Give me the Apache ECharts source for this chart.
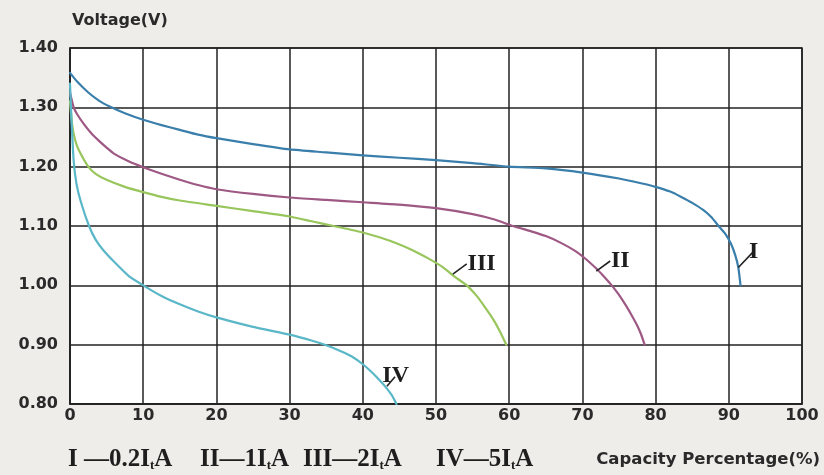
<!DOCTYPE html>
<html><head><meta charset="utf-8">
<script src="https://cdn.jsdelivr.net/npm/echarts@6/dist/echarts.min.js"></script>
<style>html,body{margin:0;padding:0;background:#efedea}#c{width:824px;height:475px}</style>
</head><body><div id="c"></div>
<script>
// ---- data ----
const xTicks = [0,10,20,30,40,50,60,70,80,90,100];
const yTicks = [0.80,0.90,1.00,1.10,1.20,1.30,1.40];
const seriesNames = ['I','II','III','IV'];
const curveI = [[0,1.358],[1,1.343],[2.5,1.325],[4,1.311],[5.5,1.301],[7.5,1.29],[10,1.279],[12.5,1.27],[15,1.262],[17.5,1.254],[20,1.248],[25,1.238],[30,1.229],[35,1.224],[40,1.219],[45,1.215],[50,1.211],[55,1.206],[60,1.20],[65,1.197],[70,1.19],[75,1.18],[78,1.172],[80,1.166],[82,1.158],[83.5,1.149],[85,1.139],[86.5,1.127],[87.6,1.115],[88.6,1.10],[89.5,1.087],[90.3,1.07],[90.9,1.05],[91.3,1.03],[91.6,1.00]];
const curveII = [[0,1.325],[0.5,1.30],[1,1.288],[2,1.27],[3,1.255],[4,1.243],[5,1.232],[6,1.222],[8,1.209],[10,1.199],[12.5,1.188],[15,1.178],[17.5,1.169],[20,1.162],[25,1.154],[30,1.148],[35,1.144],[40,1.14],[45,1.136],[50,1.13],[55,1.12],[58,1.111],[60.5,1.10],[63,1.091],[65,1.083],[67,1.072],[69,1.058],[70.5,1.044],[72,1.027],[73,1.014],[74,1.00],[75,0.984],[76,0.965],[76.8,0.948],[77.5,0.932],[78,0.918],[78.5,0.90]];
const curveIII = [[0,1.31],[0.3,1.27],[0.7,1.245],[1.2,1.228],[2.5,1.20],[3.5,1.188],[5,1.178],[7.5,1.166],[10,1.157],[12.5,1.149],[15,1.143],[20,1.134],[25,1.125],[30,1.116],[33,1.108],[36,1.10],[40,1.089],[43.7,1.075],[47,1.058],[49,1.045],[51,1.03],[52.5,1.015],[54.2,1.00],[55.5,0.983],[56.7,0.963],[57.8,0.943],[58.7,0.923],[59.6,0.90]];
const curveIV = [[0,1.34],[0.2,1.28],[0.5,1.21],[0.9,1.17],[1.5,1.14],[2.6,1.10],[3.5,1.077],[4.5,1.06],[6,1.04],[8,1.016],[10,1.00],[12.5,0.982],[15,0.968],[17.5,0.956],[20,0.946],[25,0.93],[30,0.917],[33,0.907],[35,0.899],[37,0.889],[38.5,0.88],[40,0.867],[41.2,0.854],[42.3,0.84],[43.3,0.826],[44,0.814],[44.6,0.80]];
// label leader lines [start, end] in data coords
const leadI = [[91.3,1.03],[93.3,1.056]];
const leadII = [[71.9,1.024],[73.8,1.041]];
const leadIII = [[52.3,1.019],[54.2,1.036]];
const leadIV = [[43.3,0.83],[44.4,0.846]];
const legendItems = [['I ','0.2'],['II','1'],['III','2'],['IV','5']];
const xTitle = 'Capacity Percentage(%)';
const yTitle = 'Voltage(V)';

const colors = ['#3a7fab','#9e5884','#98c65c','#5ab7c7'];
const curves = [curveI, curveII, curveIII, curveIV];
const leads = [leadI, leadII, leadIII, leadIV];

const chart = echarts.init(document.getElementById('c'));
const series = curves.map((d,i)=>({
  name: seriesNames[i], type:'line', data:d, showSymbol:false, smooth:0.2,
  lineStyle:{color:colors[i], width:2.2, cap:'round', join:'round'}, z:3,
  markLine:{symbol:['none','none'], silent:true, animation:false,
    lineStyle:{color:'#222', width:1.6, type:'solid'},
    label:{show:true, position:'end', formatter:seriesNames[i], color:'#1e1e1e',
      fontFamily:'Liberation Serif', fontWeight:'bold', fontSize:24, distance:1},
    data:[[{coord:leads[i][0]},{coord:leads[i][1]}]]}
}));

const legendX = [68,200,303,436];
const graphics = legendItems.map((it,i)=>({
  type:'text', left:legendX[i], top:447,
  style:{text:'{r|'+it[0]+'}{d|—'+it[1]+'I}{s|t}{d|A}', rich:{
    r:{fontFamily:'Liberation Serif',fontWeight:'bold',fontSize:25,fill:'#1e1e1e'},
    d:{fontFamily:'Liberation Serif',fontWeight:'bold',fontSize:25,fill:'#1e1e1e'},
    s:{fontFamily:'Liberation Serif',fontWeight:'bold',fontSize:13,fill:'#1e1e1e',verticalAlign:'bottom',padding:[12,0,0,0]}
  }}
}));
graphics.push({type:'text', right:4, top:451, style:{text:xTitle, fontFamily:'DejaVu Sans', fontWeight:'bold', fontSize:16.5, fill:'#2a2a2a'}});
graphics.push({type:'text', left:72, top:13, style:{text:yTitle, fontFamily:'DejaVu Sans', fontWeight:'bold', fontSize:16, fill:'#2a2a2a'}});

chart.setOption({
  backgroundColor:'#efedea',
  animation:false,
  grid:{left:70, right:22, top:48, bottom:71, show:true, backgroundColor:'#ffffff', borderColor:'#222', borderWidth:1.5},
  xAxis:{type:'value', min:xTicks[0], max:xTicks[xTicks.length-1], interval:10,
    axisLine:{show:true, lineStyle:{color:'#222', width:1.5}}, axisTick:{show:false},
    splitLine:{show:true, lineStyle:{color:'#222', width:1.5}},
    axisLabel:{color:'#2a2a2a', fontFamily:'DejaVu Sans', fontWeight:'bold', fontSize:16, margin:4}},
  yAxis:{type:'value', min:yTicks[0], max:yTicks[yTicks.length-1], interval:0.1,
    axisLine:{show:true, lineStyle:{color:'#222', width:1.5}}, axisTick:{show:false},
    splitLine:{show:true, lineStyle:{color:'#222', width:1.5}},
    axisLabel:{color:'#2a2a2a', fontFamily:'DejaVu Sans', fontWeight:'bold', fontSize:16, margin:12,
      formatter:v=>v.toFixed(2)}},
  series: series,
  graphic: graphics
});
</script></body></html>
